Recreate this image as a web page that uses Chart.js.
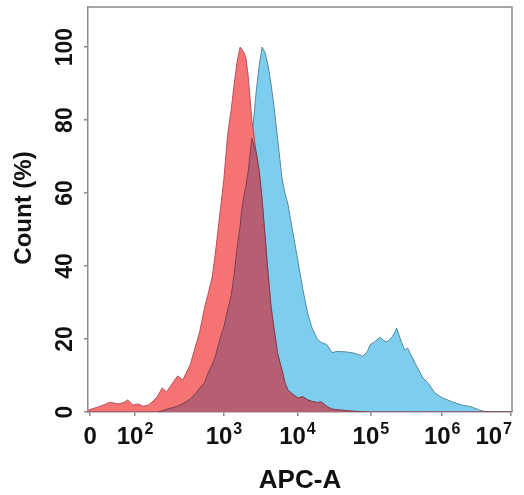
<!DOCTYPE html>
<html><head><meta charset="utf-8">
<script src="https://cdn.jsdelivr.net/npm/chart.js@4.4.1/dist/chart.umd.min.js"></script>
<style>html,body{margin:0;padding:0;background:#fff;}#wrap{width:524px;height:495px;}</style>
</head><body><div id="wrap"><canvas id="c" width="524" height="495"></canvas></div>
<script>
// x positions on the biexponential APC-A display (decade units: 3 = 10^3, 4 = 10^4 ...)
const apcPos = [1.15,1.29,1.37,1.45,1.56,1.64,1.69,1.76,1.83,1.90,1.97,2.02,2.09,2.16,2.22,2.31,2.37,2.44,2.54,2.61,2.67,2.74,2.78,2.84,2.88,2.92,2.96,3.00,3.05,3.10,3.14,3.18,3.22,3.24,3.27,3.30,3.33,3.38,3.44,3.48,3.52,3.56,3.60,3.64,3.68,3.73,3.79,3.83,3.87,3.94,4.01,4.07,4.14,4.20,4.27,4.33,4.40,4.47,4.54,4.65,4.76,4.89,4.95,4.99,5.05,5.12,5.18,5.22,5.29,5.33,5.35,5.41,5.46,5.50,5.60,5.71,5.78,5.87,5.98,6.12,6.24,6.37,6.48,6.58,6.92];
// control (red) histogram, % of max
const countControl = [0.5,1.4,2.0,2.7,2.2,2.6,3.3,1.9,2.2,1.6,1.9,2.7,4.1,6.6,5.5,8.2,9.9,8.8,12.9,17.8,22,29,32,37,43,50,57,64,76,83,90,96,100,99.5,98.5,97,92,80,71,66,58,48,38,29,23,16,11.5,8,6,4.8,3.8,4.2,3.3,2.9,2.6,2.7,1.5,0.8,0.6,0.4,0.2,0.1,0,0,0,0,0,0,0,0,0,0,0,0,0,0,0,0,0,0,0,0,0,0,0];
// stained (blue) histogram, % of max
const countStained = [0,0,0,0,0,0,0,0,0,0,0,0,0,0.3,0.8,1.2,1.6,2.3,3.5,5.0,6.5,8.2,10.5,13,15,18,21,23.5,28,32,38,45,51,55,59,62,66,75,88,95,100,98.5,95,90,84,75,64,60,57,49,41,34,27,23,20,19,18.5,16.3,16.6,16.5,16.2,15.3,16.5,18.5,19.2,20.5,19.5,19.2,20.6,22,23,19.5,17,17.5,13.4,9.3,7.9,5.2,3.8,2.7,1.9,1.4,0.5,0,0];
const xTickPos = [1.18,1.79,3.0,4.0,5.0,5.97,6.9];
const xTickBase = ['0','10','10','10','10','10','10'];
const xTickExp = ['','2','3','4','5','6','7'];
const yTickVals = [0,20,40,60,80,100];
const yTickLabels = ['0','20','40','60','80','100'];
const xTitle = 'APC-A';
const yTitle = 'Count (%)';

const pts = arr => apcPos.map((x,i)=>({x:x,y:arr[i]}));
const overlap = countControl.map((v,i)=>Math.min(v,countStained[i]));

const labelPlugin = {
  id:'labels',
  afterDraw(chart){
    const ctx = chart.ctx, ca = chart.chartArea;
    const xs = chart.scales.x, ys = chart.scales.y;
    ctx.save();
    ctx.strokeStyle = '#8a8a8a'; ctx.lineWidth = 1.5;
    ctx.beginPath(); ctx.moveTo(ca.left, ca.top); ctx.lineTo(ca.right, ca.top); ctx.lineTo(ca.right, ca.bottom); ctx.stroke();
    ctx.fillStyle = '#111';
    // y tick labels (rotated)
    ctx.font = 'bold 23px "Liberation Sans", Arial, sans-serif';
    ctx.textAlign = 'center'; ctx.textBaseline = 'middle';
    yTickVals.forEach((v,i)=>{
      const py = ys.getPixelForValue(v);
      ctx.save(); ctx.translate(66, py); ctx.rotate(-Math.PI/2); ctx.fillText(yTickLabels[i],0,0); ctx.restore();
    });
    // x tick labels with exponent
    ctx.textAlign = 'left'; ctx.textBaseline = 'alphabetic';
    xTickPos.forEach((v,i)=>{
      const px = xs.getPixelForValue(v);
      ctx.font = 'bold 24px "Liberation Sans", Arial, sans-serif';
      const wb = ctx.measureText(xTickBase[i]).width;
      ctx.font = 'bold 16px "Liberation Sans", Arial, sans-serif';
      const we = xTickExp[i] ? ctx.measureText(xTickExp[i]).width + 1 : 0;
      let x0 = px - (wb+we)/2;
      if (x0 + wb + we > ca.right) x0 = ca.right - wb - we;
      ctx.font = 'bold 24px "Liberation Sans", Arial, sans-serif';
      ctx.fillText(xTickBase[i], x0, 444);
      if (xTickExp[i]) { ctx.font = 'bold 16px "Liberation Sans", Arial, sans-serif'; ctx.fillText(xTickExp[i], x0+wb+1, 434); }
    });
    // axis titles
    ctx.font = 'bold 26px "Liberation Sans", Arial, sans-serif';
    ctx.textAlign = 'center'; ctx.textBaseline = 'alphabetic';
    ctx.fillText(xTitle, (ca.left+ca.right)/2, 488);
    ctx.font = 'bold 24px "Liberation Sans", Arial, sans-serif';
    ctx.textBaseline = 'middle';
    ctx.save(); ctx.translate(24, 208); ctx.rotate(-Math.PI/2); ctx.fillText(yTitle,0,0); ctx.restore();
    ctx.restore();
  }
};

new Chart(document.getElementById('c'), {
  type:'line',
  data:{datasets:[
    {label:'overlap', data:pts(overlap), fill:'origin', backgroundColor:'#b65f73', borderColor:'#7a4050', borderWidth:1, pointRadius:0, tension:0},
    {label:'control', data:pts(countControl), fill:'origin', backgroundColor:'#f67373', borderColor:'#b9505c', borderWidth:1, pointRadius:0, tension:0},
    {label:'stained', data:pts(countStained), fill:'origin', backgroundColor:'#7dcdef', borderColor:'#56889e', borderWidth:1, pointRadius:0, tension:0}
  ]},
  options:{
    responsive:false, animation:false, devicePixelRatio:1,
    layout:{padding:{left:84, right:12, top:7, bottom:79}},
    plugins:{legend:{display:false}, tooltip:{enabled:false}},
    scales:{
      x:{type:'linear', min:1.15, max:6.92,
         afterBuildTicks:s=>{s.ticks = xTickPos.map(v=>({value:v}));},
         ticks:{display:false},
         grid:{drawOnChartArea:false, drawTicks:true, tickLength:4, color:'#8a8a8a', lineWidth:1.5},
         border:{display:true, color:'#8a8a8a', width:1.5}},
      y:{type:'linear', min:0, max:111,
         afterBuildTicks:s=>{s.ticks = yTickVals.map(v=>({value:v}));},
         ticks:{display:false},
         grid:{drawOnChartArea:false, drawTicks:true, tickLength:4, color:'#8a8a8a', lineWidth:1.5},
         border:{display:true, color:'#8a8a8a', width:1.5}}
    }
  },
  plugins:[labelPlugin]
});
</script></body></html>
